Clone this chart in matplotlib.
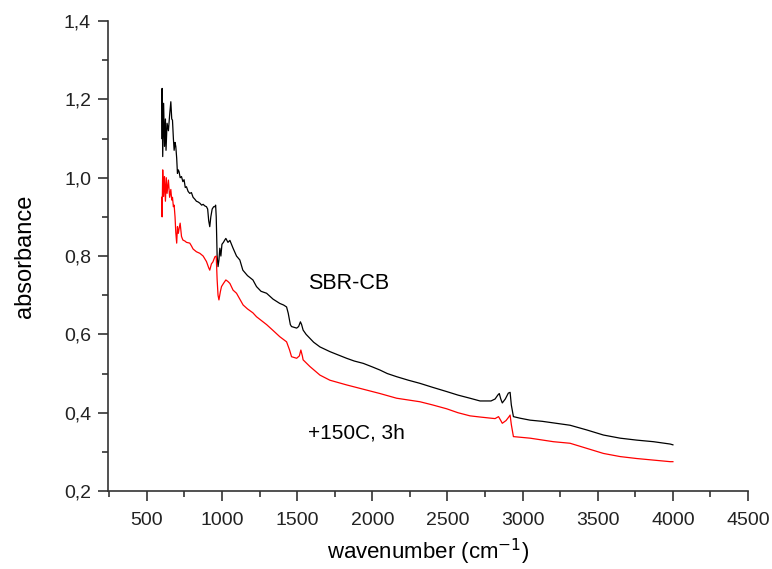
import matplotlib
matplotlib.use("Agg")
import matplotlib.pyplot as plt
from matplotlib.ticker import MultipleLocator, FuncFormatter

plt.rcParams['font.family'] = ['Liberation Sans', 'DejaVu Sans']

# SBR-CB (black)
wn_sbr = [600, 602, 606, 612, 618, 624, 628, 635, 644, 652, 660, 666, 671, 677, 682, 688,
          693, 699, 704, 710, 715, 722, 731, 740, 748, 756, 764, 775, 786, 797, 808, 820,
          830, 842, 853, 865, 875, 886, 897, 905, 912, 919, 926, 935, 945, 953, 958, 962,
          968, 974, 980, 986, 993, 1000, 1010, 1019, 1026, 1040, 1053, 1074, 1097, 1119,
          1139, 1170, 1206, 1230, 1260, 1297, 1340, 1385, 1410, 1430, 1441, 1455, 1463,
          1480, 1497, 1510, 1522, 1530, 1540, 1560, 1585, 1610, 1652, 1718, 1770, 1829,
          1880, 1940, 2000, 2051, 2100, 2162, 2240, 2317, 2400, 2495, 2570, 2650, 2717,
          2790, 2817, 2835, 2845, 2855, 2865, 2885, 2905, 2917, 2925, 2939, 2983, 3050,
          3131, 3205, 3316, 3427, 3538, 3649, 3760, 3871, 3982, 4000]
abs_sbr = [1.10, 1.228, 1.054, 1.19, 1.08, 1.15, 1.07, 1.139, 1.12, 1.16, 1.194, 1.15, 1.147,
           1.10, 1.07, 1.09, 1.08, 1.05, 1.011, 1.02, 1.015, 1.00, 1.003, 0.99, 0.995, 0.975,
           0.977, 0.965, 0.96, 0.962, 0.95, 0.945, 0.94, 0.938, 0.935, 0.93, 0.932, 0.928,
           0.926, 0.92, 0.89, 0.875, 0.90, 0.92, 0.926, 0.926, 0.93, 0.90, 0.80, 0.773, 0.79,
           0.82, 0.80, 0.83, 0.835, 0.841, 0.845, 0.835, 0.84, 0.82, 0.80, 0.79, 0.764, 0.75,
           0.739, 0.722, 0.71, 0.705, 0.69, 0.679, 0.675, 0.67, 0.654, 0.625, 0.62, 0.618,
           0.616, 0.62, 0.632, 0.625, 0.611, 0.60, 0.59, 0.58, 0.568, 0.556, 0.548, 0.539,
           0.532, 0.526, 0.517, 0.509, 0.50, 0.492, 0.483, 0.475, 0.465, 0.454, 0.445, 0.437,
           0.430, 0.43, 0.435, 0.445, 0.449, 0.435, 0.425, 0.435, 0.45, 0.452, 0.42, 0.39,
           0.386, 0.381, 0.378, 0.374, 0.368, 0.356, 0.343, 0.335, 0.33, 0.326, 0.32, 0.318]

# +150C, 3h (red)
wn_150 = [600, 602, 606, 612, 618, 624, 630, 635, 644, 652, 660, 666, 671, 677, 682, 688,
          693, 699, 704, 710, 715, 722, 731, 740, 755, 764, 786, 797, 808, 830, 853, 875,
          897, 912, 919, 930, 940, 953, 962, 968, 974, 980, 990, 997, 1010, 1026, 1040,
          1053, 1074, 1097, 1119, 1141, 1170, 1206, 1230, 1297, 1340, 1385, 1430, 1450,
          1463, 1497, 1515, 1525, 1535, 1540, 1585, 1652, 1718, 1829, 1940, 2051, 2162,
          2317, 2400, 2495, 2570, 2650, 2717, 2790, 2817, 2840, 2855, 2865, 2890, 2910,
          2917, 2925, 2939, 3050, 3205, 3316, 3427, 3538, 3649, 3760, 3871, 3982, 4000]
abs_150 = [0.95, 0.90, 1.02, 0.952, 1.003, 0.94, 1.00, 0.96, 0.994, 0.95, 0.97, 0.943, 0.95,
           0.926, 0.93, 0.90, 0.86, 0.833, 0.875, 0.858, 0.87, 0.884, 0.85, 0.841, 0.838,
           0.835, 0.833, 0.826, 0.818, 0.811, 0.807, 0.80, 0.786, 0.77, 0.764, 0.78, 0.785,
           0.798, 0.80, 0.74, 0.70, 0.688, 0.71, 0.722, 0.73, 0.739, 0.735, 0.73, 0.713,
           0.705, 0.69, 0.675, 0.665, 0.655, 0.645, 0.625, 0.61, 0.594, 0.581, 0.56, 0.543,
           0.539, 0.545, 0.56, 0.545, 0.535, 0.518, 0.496, 0.483, 0.471, 0.46, 0.449, 0.437,
           0.428, 0.42, 0.410, 0.40, 0.392, 0.389, 0.386, 0.385, 0.39, 0.38, 0.373, 0.38,
           0.39, 0.394, 0.37, 0.339, 0.335, 0.326, 0.322, 0.309, 0.296, 0.288, 0.283, 0.279,
           0.275, 0.275]

fig = plt.figure(figsize=(7.72, 5.69), dpi=100)
ax = fig.add_axes([0.1395, 0.137, 0.8295, 0.826])

ax.plot(wn_sbr, abs_sbr, color='black', lw=0.9)
ax.plot(wn_150, abs_150, color='red', lw=0.9)

ax.text(1570, 0.73, 'SBR-CB', fontsize=15.5, va='center')
ax.text(1570, 0.348, '+150C, 3h', fontsize=15, va='center')

ax.set_xlim(240, 4500)
ax.set_ylim(0.2, 1.4)
ax.xaxis.set_major_locator(MultipleLocator(500))
ax.xaxis.set_minor_locator(MultipleLocator(250))
ax.yaxis.set_major_locator(MultipleLocator(0.2))
ax.yaxis.set_minor_locator(MultipleLocator(0.1))
ax.yaxis.set_major_formatter(FuncFormatter(lambda v, p: f"{v:.1f}".replace('.', ',')))

for s in ['top', 'right']:
    ax.spines[s].set_visible(False)
for s in ['left', 'bottom']:
    ax.spines[s].set_linewidth(1.2)
    ax.spines[s].set_color('#333333')
ax.tick_params(which='major', direction='out', length=7, width=1.2, labelsize=14, colors='#333333',
               labelcolor='#222222')
ax.tick_params(axis='x', which='major', pad=8)
ax.tick_params(axis='y', which='major', pad=5)
ax.tick_params(which='minor', direction='out', length=4, width=1.2, colors='#333333')

ax.set_xlabel('wavenumber (cm$^{-1}$)', fontsize=16, labelpad=6)
ax.set_ylabel('absorbance', fontsize=17, labelpad=20)

fig.savefig('out.png', dpi=100)
